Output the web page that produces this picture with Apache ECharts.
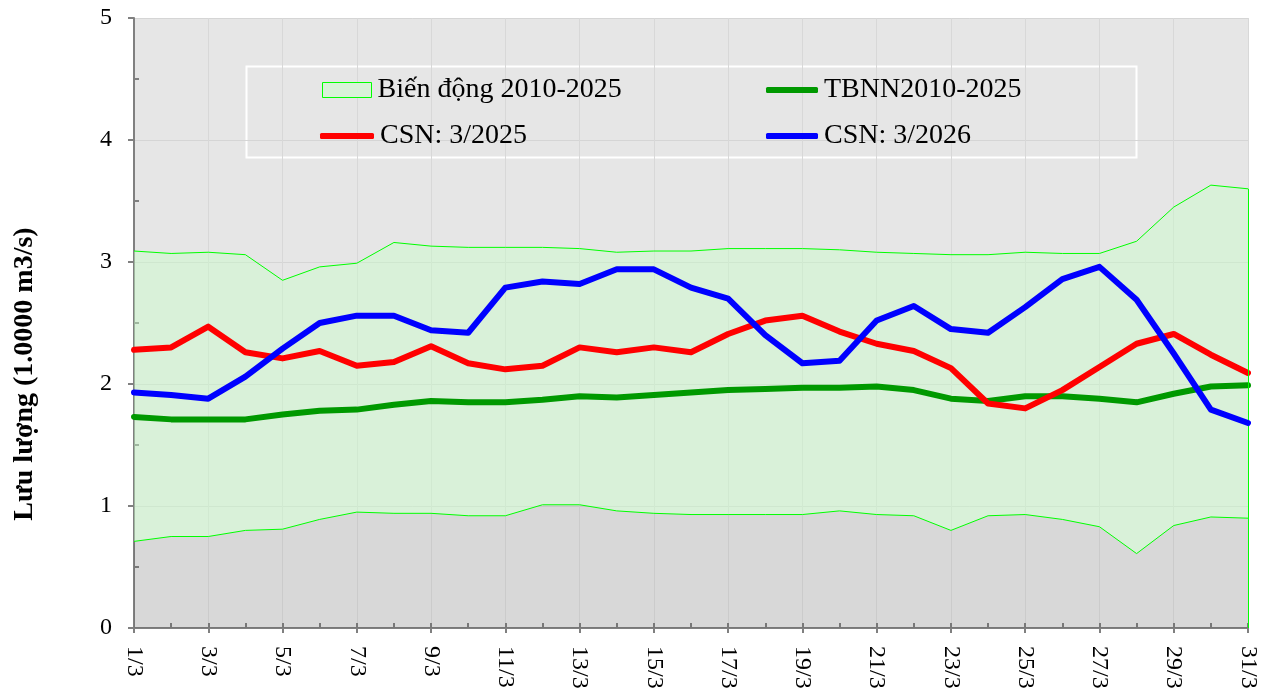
<!DOCTYPE html>
<html>
<head>
<meta charset="utf-8">
<script src="https://cdn.jsdelivr.net/npm/echarts@6/dist/echarts.min.js"></script>
<style>
	body { margin: 0; background: #fff; }
	#chart { width: 1277px; height: 694px; }
</style>
</head>
<body>
<div id="chart"></div>
<script>
	// ngày trong tháng 3
	var categories = ['1/3', '2/3', '3/3', '4/3', '5/3', '6/3', '7/3', '8/3', '9/3', '10/3',
		'11/3', '12/3', '13/3', '14/3', '15/3', '16/3', '17/3', '18/3', '19/3', '20/3',
		'21/3', '22/3', '23/3', '24/3', '25/3', '26/3', '27/3', '28/3', '29/3', '30/3', '31/3'];

	// biên trên / dưới của biến động 2010-2025
	var upperBand = [3.09, 3.07, 3.08, 3.06, 2.85, 2.96, 2.99, 3.16, 3.13, 3.12, 3.12, 3.12, 3.11, 3.08, 3.09, 3.09,
		3.11, 3.11, 3.11, 3.10, 3.08, 3.07, 3.06, 3.06, 3.08, 3.07, 3.07, 3.17, 3.45, 3.63, 3.60];
	var lowerBand = [0.71, 0.75, 0.75, 0.80, 0.81, 0.89, 0.95, 0.94, 0.94, 0.92, 0.92, 1.01, 1.01, 0.96, 0.94, 0.93,
		0.93, 0.93, 0.93, 0.96, 0.93, 0.92, 0.80, 0.92, 0.93, 0.89, 0.83, 0.61, 0.84, 0.91, 0.90];

	var tbnn = [1.73, 1.71, 1.71, 1.71, 1.75, 1.78, 1.79, 1.83, 1.86, 1.85, 1.85, 1.87, 1.90, 1.89, 1.91, 1.93,
		1.95, 1.96, 1.97, 1.97, 1.98, 1.95, 1.88, 1.86, 1.90, 1.90, 1.88, 1.85, 1.92, 1.98, 1.99];
	var csn2025 = [2.28, 2.30, 2.47, 2.26, 2.21, 2.27, 2.15, 2.18, 2.31, 2.17, 2.12, 2.15, 2.30, 2.26, 2.30, 2.26,
		2.41, 2.52, 2.56, 2.43, 2.33, 2.27, 2.13, 1.84, 1.80, 1.95, 2.14, 2.33, 2.41, 2.24, 2.09];
	var csn2026 = [1.93, 1.91, 1.88, 2.06, 2.29, 2.50, 2.56, 2.56, 2.44, 2.42, 2.79, 2.84, 2.82, 2.94, 2.94, 2.79,
		2.70, 2.40, 2.17, 2.19, 2.52, 2.64, 2.45, 2.42, 2.63, 2.86, 2.96, 2.69, 2.25, 1.79, 1.68];

	var yTicks = [0, 1, 2, 3, 4, 5];

	var FONT = '"Liberation Serif", "Times New Roman", serif';
	var bandWidth = upperBand.map(function(v, i) {
		return +(v - lowerBand[i]).toFixed(2);
	});
	var lastCat = categories[categories.length - 1];

	function legendBox(name, left, top, w, h, style) {
		return {
			left: left,
			top: top,
			padding: 0,
			itemWidth: w,
			itemHeight: h,
			itemGap: 0,
			selectedMode: false,
			textStyle: { fontFamily: FONT, fontSize: 28, color: '#000', lineHeight: 30, padding: [0, 0, 0, 1] },
			data: [Object.assign({ name: name }, style)]
		};
	}

	var myChart = echarts.init(document.getElementById('chart'));
	var option = {
		animation: false,
		backgroundColor: '#fff',
		grid: {
			left: 134,
			right: 29,
			top: 18,
			bottom: 66,
			show: true,
			backgroundColor: '#e6e6e6',
			borderWidth: 0
		},
		legend: [
			legendBox('Biến động 2010-2025', 322, 75, 49, 15, {
				icon: 'rect',
				itemStyle: { color: '#d9f2d9', borderColor: '#00ff00', borderWidth: 1 }
			}),
			legendBox('TBNN2010-2025', 766, 75, 52, 6, {
				icon: 'roundRect',
				itemStyle: { color: '#009900', borderWidth: 0 }
			}),
			legendBox('CSN: 3/2025', 320, 121, 54, 6, {
				icon: 'roundRect',
				itemStyle: { color: '#ff0000', borderWidth: 0 }
			}),
			legendBox('CSN: 3/2026', 766, 121, 52, 6, {
				icon: 'roundRect',
				itemStyle: { color: '#0000ff', borderWidth: 0 }
			})
		],
		graphic: [{
			type: 'rect',
			left: 244,
			top: 64,
			shape: { width: 890, height: 91 },
			style: { fill: 'none', stroke: '#ffffff', lineWidth: 2 },
			silent: true
		}, {
			type: 'text',
			x: 25,
			y: 374,
			rotation: Math.PI / 2,
			style: {
				text: 'Lưu lượng (1.0000 m3/s)',
				font: 'bold 28px ' + FONT,
				fill: '#000',
				align: 'center',
				verticalAlign: 'middle'
			},
			silent: true
		}],
		xAxis: [{
			type: 'category',
			boundaryGap: false,
			data: categories,
			axisLine: { lineStyle: { color: '#808080', width: 2 } },
			axisTick: { interval: 0, inside: true, length: 5, lineStyle: { color: '#808080', width: 2 } },
			axisLabel: {
				interval: 1,
				rotate: -90,
				margin: 18,
				fontFamily: FONT,
				fontSize: 24,
				color: '#000'
			},
			splitLine: { show: true, interval: 1, lineStyle: { color: '#d8d8d8', width: 1 } }
		}, {
			type: 'category',
			boundaryGap: false,
			position: 'bottom',
			data: categories,
			axisLine: { show: false },
			axisTick: { interval: 1, inside: false, length: 5, lineStyle: { color: '#808080', width: 2 } },
			axisLabel: { show: false },
			splitLine: { show: false }
		}],
		yAxis: [{
			type: 'value',
			min: yTicks[0],
			max: yTicks[yTicks.length - 1],
			interval: 1,
			axisLine: { show: true, lineStyle: { color: '#808080', width: 2 } },
			axisTick: { show: true, length: 6, lineStyle: { color: '#808080', width: 2 } },
			axisLabel: { margin: 22, fontFamily: FONT, fontSize: 24, color: '#000' },
			splitLine: { show: true, lineStyle: { color: '#d5d5d5', width: 1 } }
		}, {
			type: 'value',
			position: 'left',
			min: yTicks[0],
			max: yTicks[yTicks.length - 1],
			interval: 0.5,
			axisLine: { show: false },
			axisTick: {
				show: true,
				inside: true,
				length: 5,
				customValues: [0.5, 1.5, 2.5, 3.5, 4.5],
				lineStyle: { color: '#808080', width: 2 }
			},
			axisLabel: { show: false },
			splitLine: { show: false }
		}],
		series: [{
			name: 'lower',
			type: 'line',
			stack: 'band',
			data: lowerBand,
			symbol: 'none',
			silent: true,
			lineStyle: { color: '#00ff00', width: 1 },
			areaStyle: { color: 'rgba(0,0,0,0.06)', opacity: 1 },
			z: 1
		}, {
			name: 'Biến động 2010-2025',
			type: 'line',
			stack: 'band',
			data: bandWidth,
			symbol: 'none',
			silent: true,
			lineStyle: { color: '#00ff00', width: 1 },
			itemStyle: { color: '#d9f2d9' },
			areaStyle: { color: 'rgba(200,255,200,0.43)', opacity: 1 },
			markLine: {
				silent: true,
				symbol: 'none',
				label: { show: false },
				lineStyle: { color: '#00ff00', width: 1, type: 'solid' },
				data: [[{ coord: [lastCat, 0] }, { coord: [lastCat, upperBand[upperBand.length - 1]] }]]
			},
			z: 1
		}, {
			name: 'TBNN2010-2025',
			type: 'line',
			data: tbnn,
			symbol: 'none',
			lineStyle: { color: '#009900', width: 6, cap: 'round', join: 'round' },
			itemStyle: { color: '#009900' },
			z: 3
		}, {
			name: 'CSN: 3/2025',
			type: 'line',
			data: csn2025,
			symbol: 'none',
			lineStyle: { color: '#ff0000', width: 6, cap: 'round', join: 'round' },
			itemStyle: { color: '#ff0000' },
			z: 4
		}, {
			name: 'CSN: 3/2026',
			type: 'line',
			data: csn2026,
			symbol: 'none',
			lineStyle: { color: '#0000ff', width: 6, cap: 'round', join: 'round' },
			itemStyle: { color: '#0000ff' },
			z: 5
		}]
	};
	myChart.setOption(option);
</script>
</body>
</html>
